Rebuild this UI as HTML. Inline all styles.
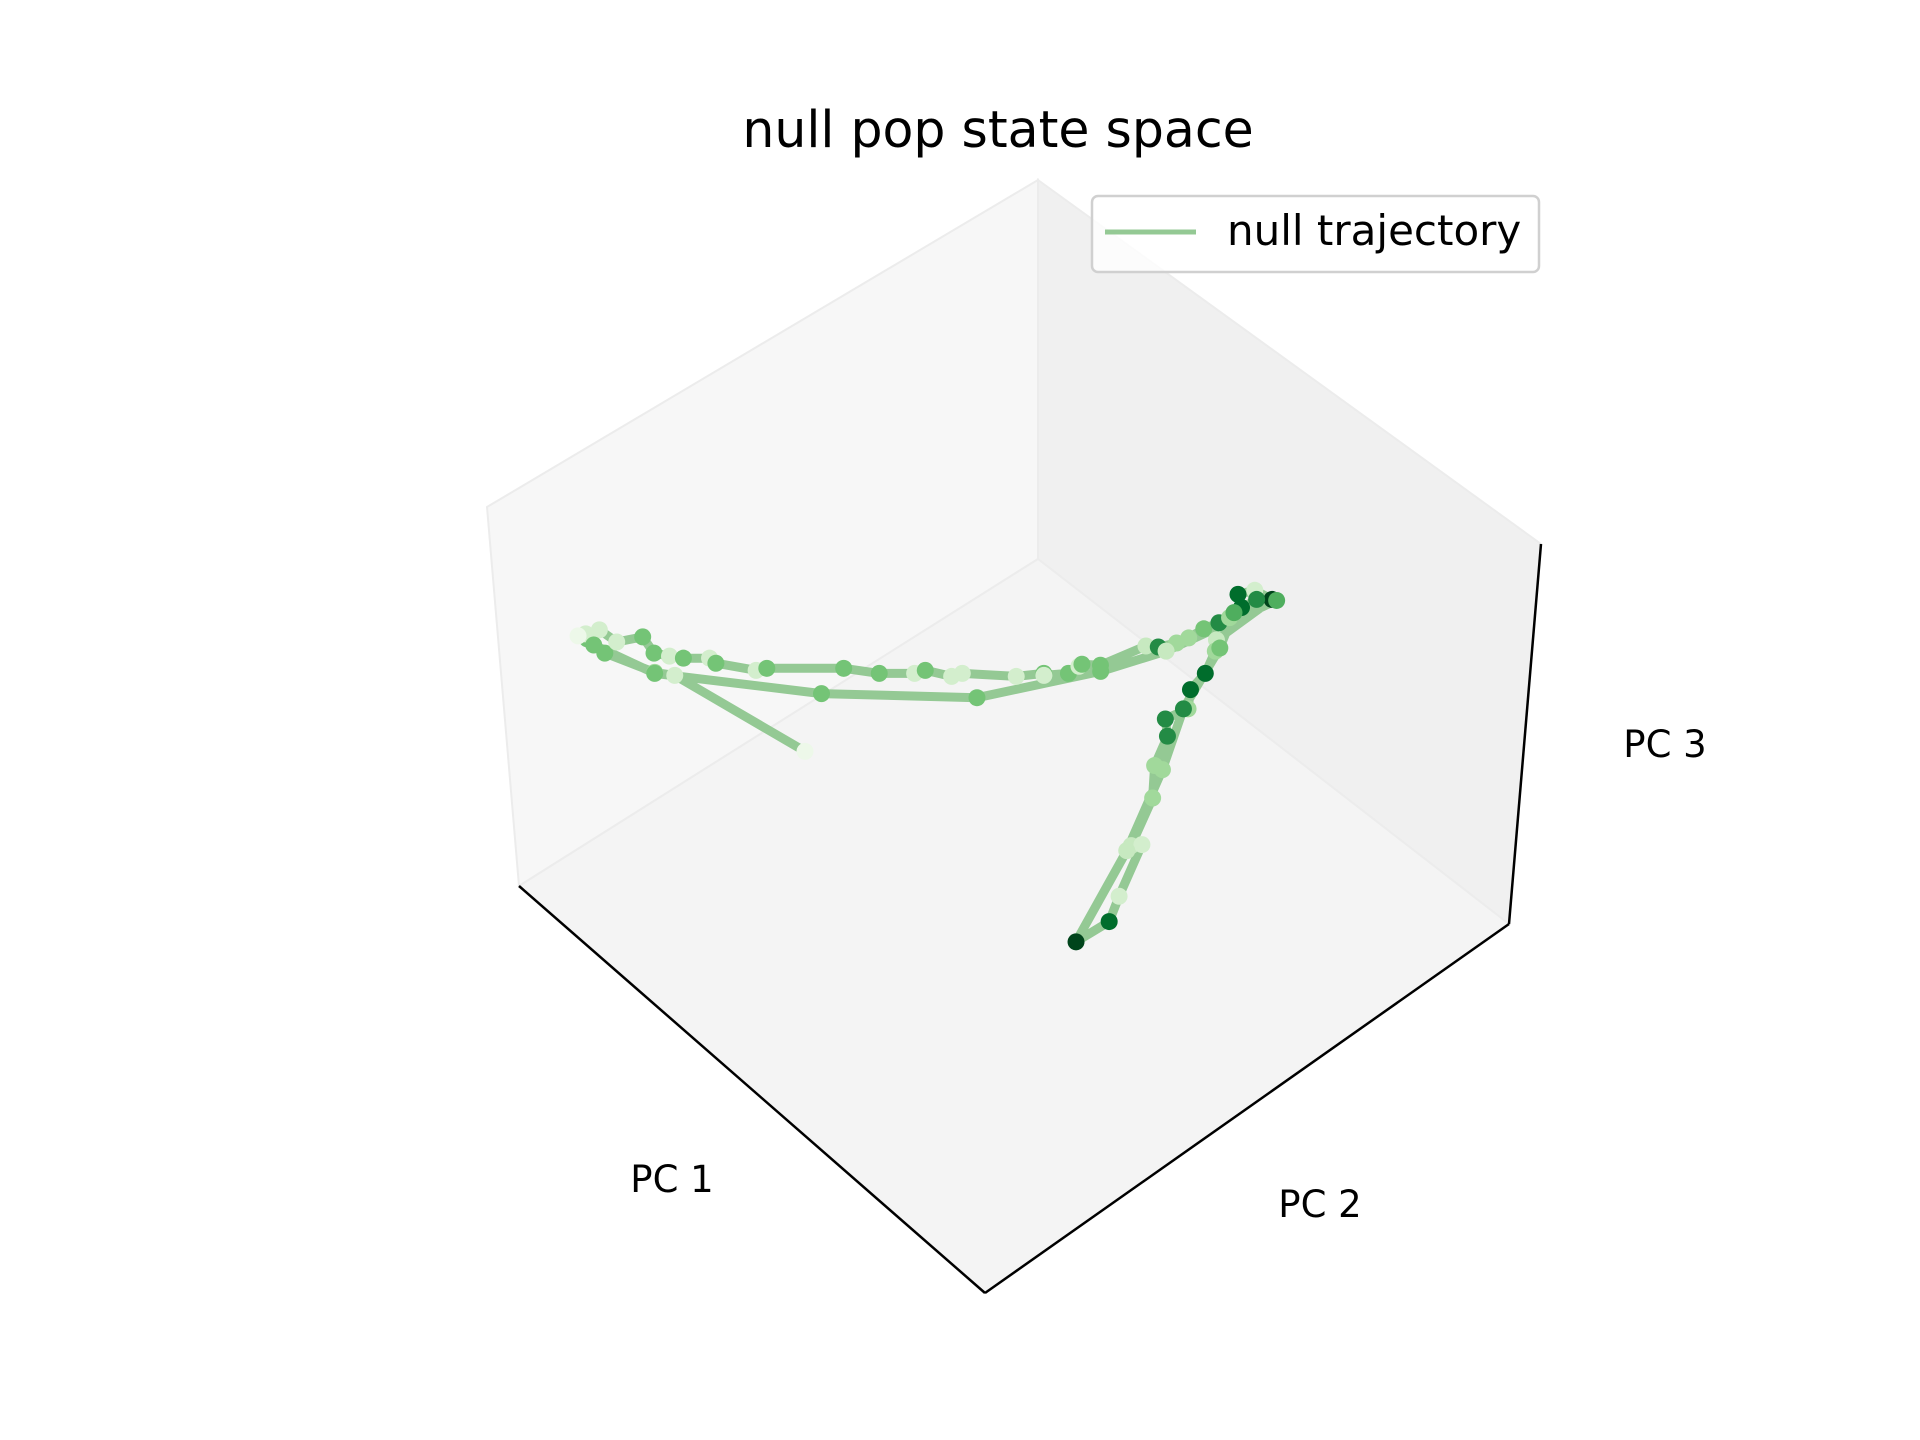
<!DOCTYPE html>
<html><head><meta charset="utf-8"><style>
html,body{margin:0;padding:0;background:#fff;}
svg{display:block;font-family:"DejaVu Sans","Liberation Sans",sans-serif;}
</style></head><body>
<svg id="chart" width="1920" height="1440" viewBox="0 0 1920 1440">
  <g>
    <polygon points="487,507 1038,180 1038,559 519,886" fill="#f7f7f7" stroke="#ececec" stroke-width="2"/>
    <polygon points="1038,180 1541,544 1509,924 1038,559" fill="#f0f0f0" stroke="#ececec" stroke-width="2"/>
    <polygon points="519,886 1038,559 1509,924 985,1293" fill="#f4f4f4" stroke="#ececec" stroke-width="2"/>
  </g>
  <g>
    <line x1="519" y1="886" x2="985" y2="1293" stroke="#000" stroke-width="2.5"/>
    <line x1="985" y1="1293" x2="1509" y2="924" stroke="#000" stroke-width="2.5"/>
    <line x1="1509" y1="924" x2="1541" y2="544" stroke="#000" stroke-width="2.5"/>
  </g>
  <text x="998" y="147" font-size="50.5" text-anchor="middle" fill="#000">null pop state space</text>
  <text x="672" y="1192" font-size="37" text-anchor="middle">PC 1</text>
  <text x="1320" y="1217" font-size="37" text-anchor="middle">PC 2</text>
  <text x="1665" y="757" font-size="37" text-anchor="middle">PC 3</text>
  <g id="traj"></g>
  <g>
    <rect x="1092" y="196" width="447" height="76" rx="6" fill="#fff" fill-opacity="0.8" stroke="#d0d0d0" stroke-width="2.5"/>
    <line x1="1105" y1="232" x2="1196" y2="232" stroke="#94c994" stroke-width="5"/>
    <text x="1227" y="245" font-size="42">null trajectory</text>
  </g>
</svg>
<script>
const pc1 = [-34.5,-42.8,-44.1,-47.3,-48.4,-48.5,-47.6,-46.5,-44.8,-44.1,-43.1,-42.2,-40.5,-40.1,-37.5,-36.8,-31.8,-29.5,-27.2,-26.5,-24.8,-24.1,-20.6,-18.8,-18.8,-17.2,-16.5,-16.3,-15.1,-12.1,-11.3,-10.1,-9.3,-8.3,-7.3,-6.6,-5.8,-6.0,-4.9,-3.8,-7.5,-7.6,-8.3,-9.3,-9.5,-11.0,-10.9,-11.8,-12.0,-13.5,-12.8,-14.4,-15.1,-17.3,-13.8,-11.3,-9.8,-7.3,-6.3,-4.8,-3.5,-10.8,-15.1,-23.2,-33.3,-44.1,-48.0,-49.0];
const pc2 = [0,0,0,0,0,0,0,0,0,0,0,0,0,0,0,0,0,0,0,0,0,0,0,0,0,0,0,0,0,0,0,0,0,0,0,0,0,0,0,0,0,0,0,0,0,0,0,0,0,0,0,0,0,0,0,0,0,0,0,0,0,0,0,0,0,0,0,0];
const pc3 = [-18.3,-10.8,-10.5,-8.6,-7.2,-6.7,-6.3,-7.5,-7.0,-8.6,-8.9,-9.1,-9.1,-9.6,-10.3,-10.1,-10.1,-10.6,-10.6,-10.3,-10.9,-10.6,-10.9,-10.6,-10.8,-10.6,-9.9,-9.7,-9.8,-7.9,-8.0,-7.6,-7.1,-6.2,-5.6,-5.1,-4.1,-2.8,-2.4,-3.3,-7.3,-8.4,-10.6,-12.2,-14.1,-15.1,-16.8,-19.7,-22.9,-27.6,-27.5,-32.6,-35.1,-37.1,-28.1,-20.1,-14.1,-8.1,-4.6,-3.3,-3.4,-8.4,-10.4,-13.0,-12.6,-10.6,-7.8,-6.9];
const shade = [0,1,3,4,4,1,1,1,4,4,1,4,1,4,1,4,4,4,1,4,1,1,1,4,1,4,1,4,4,2,6,3,3,4,6,3,7,7,1,8,2,3,7,7,3,6,6,3,3,2,1,1,7,8,2,3,6,4,5,6,5,2,4,4,4,4,4,0];
const greens = ['#edf8e9','#d3eecd','#c7e9c0','#a1d99b','#74c476','#4fae5e','#238b45','#006d2c','#00441b'];
function sx(a,b,c){return 1329.3 + a*15.38 - c*0.345 + b*3;}
function sy(a,b,c){return 566 - c*10.13 + b*2;}
const g = document.getElementById('traj');
const NS = 'http://www.w3.org/2000/svg';
const pts = pc1.map((v,i)=>[sx(v,pc2[i],pc3[i]), sy(v,pc2[i],pc3[i])]);
const line = document.createElementNS(NS,'polyline');


line.setAttribute('points', pts.map(p=>p[0].toFixed(1)+','+p[1].toFixed(1)).join(' '));
line.setAttribute('fill','none');
line.setAttribute('stroke','#94c994');
line.setAttribute('stroke-width','9');
line.setAttribute('stroke-linejoin','round');
g.appendChild(line);
pts.forEach((p,i)=>{
  const c = document.createElementNS(NS,'circle');
  
  
  c.setAttribute('cx', p[0]);
  c.setAttribute('cy', p[1]);
  c.setAttribute('r', 8.5);
  c.setAttribute('fill', greens[shade[i]]);
  g.appendChild(c);
});
</script>
</body></html>
